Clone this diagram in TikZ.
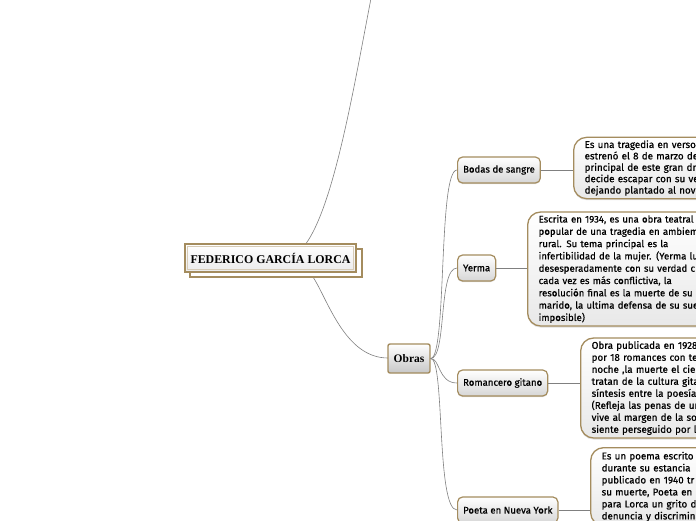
\documentclass[tikz,border=0pt]{standalone}
\usepackage{fontspec}
\setmainfont{Fira Sans}[RawFeature={embolden=0.6}]
\newfontfamily\titlefont{Liberation Serif}
\usetikzlibrary{shadows}
\definecolor{tan}{RGB}{164,140,94}
\definecolor{conn}{RGB}{128,128,128}
\tikzset{
  childbox/.style={draw=tan, line width=1.2pt, rounded corners=5pt, top color=white, bottom color=black!16,
    font=\fontsize{9.6}{11}\selectfont, minimum height=26pt, inner xsep=5.5pt, anchor=west,
    drop shadow={opacity=0.25, shadow xshift=0pt, shadow yshift=-1.2pt}},
  descbox/.style={draw=tan, line width=1.3pt, rounded corners=13pt, top color=white, bottom color=black!9,
    anchor=west, align=left, text width=300pt, inner xsep=11pt, inner ysep=3pt,
    font=\fontsize{9.8}{12}\selectfont,
    drop shadow={opacity=0.25, shadow xshift=0pt, shadow yshift=-1.5pt}},
  connector/.style={draw=conn, line width=0.6pt},
}
\begin{document}
\begin{tikzpicture}[x=1pt,y=-1pt]
\useasboundingbox (0,0) rectangle (696,520);
\clip (0,0) rectangle (696,520);
\fill[white] (0,0) rectangle (696,520);

% connectors from the title
\coordinate (up) at (373,-12);
\coordinate (tTop) at (305,245);
\coordinate (tBot) at (313,277);
\draw[connector] (tTop) .. controls (335,205) and (355,80) .. (up);
\draw[connector] (tBot) .. controls (328,300) and (345,358) .. (388,358);

% title
\draw[draw=tan, line width=1.6pt, fill=white] (190,249) rectangle (362,277);
\node[draw=tan, line width=1.6pt, top color=white, bottom color=black!8, minimum width=171pt, minimum height=28pt, inner sep=0pt] (title) at (270.5,258) {\resizebox{160pt}{!}{\titlefont\bfseries FEDERICO GARCÍA LORCA}};
\draw[draw=tan!45, line width=0.4pt] (187.5,246.5) rectangle (353.5,269.5);

% Obras
\node[draw=tan, line width=1.4pt, rounded corners=2pt, top color=white, bottom color=black!22, minimum width=42pt, minimum height=29pt, inner sep=0pt, font=\titlefont\fontsize{11.5}{12}\selectfont\bfseries] (obras) at (409,358.5) {Obras};

% children
\node[childbox] (bodas) at (457,170) {Bodas de sangre};
\node[childbox] (yerma) at (457,268) {Yerma};
\node[childbox] (romancero) at (457,383) {Romancero gitano};
\node[childbox] (poeta) at (457,510) {Poeta en Nueva York};

\draw[connector] (obras.east) .. controls (447,358) and (438,170) .. (bodas.west);
\draw[connector] (obras.east) .. controls (447,358) and (438,268) .. (yerma.west);
\draw[connector] (obras.east) .. controls (440,358) and (438,383) .. (romancero.west);
\draw[connector] (obras.east) .. controls (445,358) and (436,510) .. (poeta.west);

% descriptions
\node[descbox, minimum height=60pt, font=\fontsize{9.8}{11.4}\selectfont] (dbodas) at (573,168) {Es una tragedia en verso\\estrenó el 8 de marzo de\\principal de este gran dra\\decide escapar con su ve\\dejando plantado al novio};
\node[descbox, minimum height=114pt, font=\fontsize{9.6}{12.3}\selectfont] (dyerma) at (527,269) {Escrita en 1934, es una obra teatral\\popular de una tragedia en ambiem\\rural. Su tema principal es la\\infertibilidad de la mujer. (Yerma lu\\desesperadamente con su verdad c\\cada vez es más conflictiva, la\\resolución final es la muerte de su\\marido, la ultima defensa de su sue\\imposible)};
\node[descbox, minimum height=100pt] (dromancero) at (580,388) {Obra publicada en 1928\\por 18 romances con te\\noche ,la muerte el ciel\\tratan de la cultura gita\\síntesis entre la poesía\\(Refleja las penas de un\\vive al margen de la so\\siente perseguido por la};
\node[descbox, anchor=north west, inner ysep=2pt, minimum height=78pt] (dpoeta) at (590,447) {Es un poema escrito\\durante su estancia\\publicado en 1940 tr\\su muerte, Poeta en\\para Lorca un grito d\\denuncia y discrimina};

\draw[connector] (bodas.east) -- (dbodas.west |- bodas.east);
\draw[connector] (yerma.east) -- (dyerma.west |- yerma.east);
\draw[connector] (romancero.east) -- (dromancero.west |- romancero.east);
\draw[connector] (poeta.east) -- (dpoeta.west |- poeta.east);
\end{tikzpicture}
\end{document}
